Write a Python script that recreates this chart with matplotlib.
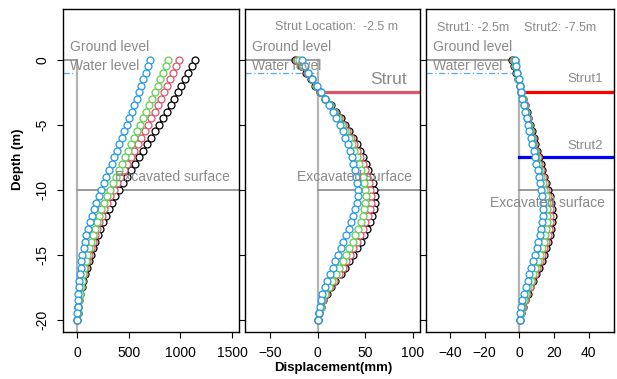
import numpy as np
import matplotlib
matplotlib.use("Agg")
import matplotlib.pyplot as plt
import matplotlib.transforms as mtransforms

plt.rcParams['font.family'] = ['Liberation Sans', 'DejaVu Sans']

# depth grid (m), every 0.5 m
depth = np.arange(0, -20.5, -0.5)

# panel 1: cantilever, no strut
black1 = [1142, 1110, 1077, 1044, 1010, 975, 940, 904, 866, 830, 792, 755, 717, 678, 640, 600, 562, 522, 483, 443,
          405, 370, 336, 304, 275, 248, 222, 198, 175, 152, 130, 110, 91, 73, 57, 42, 30, 19, 10, 4, 0]
red1 = [986, 958, 930, 901, 872, 842, 812, 781, 749, 717, 685, 652, 619, 586, 553, 519, 486, 452, 418, 384,
        351, 320, 290, 262, 237, 213, 191, 170, 150, 131, 113, 95, 79, 64, 50, 37, 26, 17, 9, 3, 0]
green1 = [883, 858, 832, 806, 780, 753, 726, 698, 670, 641, 612, 583, 553, 523, 493, 463, 433, 403, 373, 343,
          313, 284, 257, 232, 209, 188, 168, 149, 131, 114, 98, 83, 69, 56, 44, 33, 23, 15, 8, 3, 0]
blue1 = [705, 684, 663, 641, 619, 597, 574, 551, 528, 504, 480, 456, 432, 407, 382, 357, 332, 307, 282, 257,
         232, 207, 183, 161, 140, 121, 104, 88, 74, 61, 50, 40, 31, 23, 17, 12, 8, 5, 3, 1, 0]

# panel 2: one strut at -2.5 m
black2 = [-24, -18, -12.5, -7.5, -3, 2, 8, 13.5, 19, 24, 28.5, 33, 37, 41, 44.5, 47.5, 50.5, 53, 55.5, 57.5,
          59.5, 60.5, 60, 59, 57, 54.5, 51.5, 48.5, 45, 41, 37, 33, 28.5, 24, 18, 13.5, 9.5, 6, 3.5, 1.5, 0.5]
red2 = [-22, -16.5, -11.5, -6.5, -2, 2.5, 8, 13, 18, 22.5, 27, 31, 35, 38.5, 41.5, 44.5, 47, 49.5, 51.5, 53.5,
        55, 56, 55.5, 54.5, 52.5, 50, 47.5, 44.5, 41, 37.5, 34, 30, 26, 22, 17, 12.5, 8.5, 5.5, 3.5, 1.5, 0.5]
green2 = [-20, -15, -10.5, -6, -1.5, 3, 7.5, 12.5, 17, 21, 25, 29, 32.5, 35.5, 38.5, 41, 43.5, 45.5, 47.5, 49,
          50, 50.5, 50, 49, 47, 45, 42.5, 39.5, 36.5, 33, 29.5, 26, 22.5, 19, 15, 11.5, 8, 5, 3, 1, 0]
blue2 = [-17, -13.5, -10, -5.5, -1, 3.5, 7.5, 12, 16, 19.5, 23, 26, 29, 31.5, 34, 36, 37.5, 39, 40.5, 41.5,
         42, 42, 41, 39.5, 37.5, 35, 32.5, 30, 27, 24.5, 21.5, 18.5, 15.5, 12.5, 10, 7.5, 5, 3.5, 2, 1, 0]

# panel 3: struts at -2.5 m and -7.5 m
black3 = [-4, -3, -1.8, -0.8, 0.2, 1.2, 2.2, 3.2, 4.2, 5.2, 6.2, 7.2, 8.2, 9.2, 10.2, 11.2, 12.2, 13.3, 14.4, 15.5,
          16.6, 17.6, 18.4, 19, 19.2, 19, 18.5, 17.8, 16.8, 15.6, 14.3, 12.8, 11.2, 9.6, 8, 6.4, 4.8, 3.4, 2.2, 1.2, 0.5]
red3 = [-3.6, -2.7, -1.6, -0.7, 0.2, 1.1, 2.1, 3, 3.9, 4.9, 5.8, 6.8, 7.7, 8.7, 9.6, 10.6, 11.5, 12.5, 13.5, 14.5,
        15.5, 16.4, 17.1, 17.6, 17.8, 17.6, 17.1, 16.4, 15.5, 14.4, 13.2, 11.8, 10.3, 8.8, 7.3, 5.9, 4.4, 3.1, 2, 1.1, 0.5]
green3 = [-3, -2.3, -1.4, -0.6, 0.2, 1, 1.9, 2.8, 3.7, 4.5, 5.4, 6.3, 7.2, 8, 8.9, 9.8, 10.7, 11.6, 12.5, 13.4,
          14.3, 15.1, 15.7, 16.1, 16.2, 16, 15.5, 14.8, 14, 13, 11.9, 10.6, 9.3, 7.9, 6.5, 5.2, 3.9, 2.7, 1.7, 0.9, 0.4]
blue3 = [-2.5, -1.8, -1.2, -0.4, 0.3, 1, 1.8, 2.6, 3.4, 4.2, 5, 5.8, 6.6, 7.4, 8.2, 9, 9.8, 10.6, 11.4, 12.1,
         12.7, 13.2, 13.5, 13.6, 13.4, 13, 12.4, 11.7, 10.9, 10, 9, 8, 6.9, 5.8, 4.7, 3.6, 2.6, 1.7, 1, 0.5, 0.3]

series_colors = ['black', '#DF536B', '#61D04F', '#2297E6']
txt_gray = '#8a8a8a'
ylim = (-20.92, 3.92)

fig = plt.figure(figsize=(6.17, 3.79), dpi=100)
ax1 = fig.add_axes([63/617, 47.3/379, 176/617, 322.7/379])
ax2 = fig.add_axes([245/617, 47.3/379, 175/617, 322.7/379])
ax3 = fig.add_axes([425.7/617, 47.3/379, 188/617, 322.7/379])

panels = [
    (ax1, [black1, red1, green1, blue1], (-139, 1568), [0, 500, 1000, 1500]),
    (ax2, [black2, red2, green2, blue2], (-76.3, 107.3), [-50, 0, 50, 100]),
    (ax3, [black3, red3, green3, blue3], (-54, 54.4), [-40, -20, 0, 20, 40]),
]

for ax, data, xl, xt in panels:
    ax.set_xlim(xl)
    ax.set_ylim(ylim)
    tr = mtransforms.blended_transform_factory(ax.transAxes, ax.transData)
    # wall, ground, water level, excavation
    ax.plot([0, 0], [0, ylim[0]], color='#b4b4b4', lw=1.6, zorder=1)
    ax.plot([0, 0], [0, 0], transform=tr)
    ax.plot([0, (0 - xl[0]) / (xl[1] - xl[0])], [0, 0], color='#8c8c8c', lw=1.2, transform=tr, zorder=1)
    ax.plot([0, (0 - xl[0]) / (xl[1] - xl[0])], [-1, -1], color='#56a8e6', lw=0.9,
            ls=(0, (5, 2, 1, 2)), transform=tr, zorder=1)
    ax.plot([(0 - xl[0]) / (xl[1] - xl[0]), 1], [-10, -10], color='#999999', lw=1.4, transform=tr, zorder=1)
    for vals, c in zip(data, series_colors):
        ax.plot(vals, depth, color=c, lw=0.8, marker='o', ms=5, mfc='white', mec=c, mew=0.9, zorder=3)
    ax.text(0.04, 1.0, 'Ground level', transform=tr, ha='left', va='center', fontsize=10, color=txt_gray, zorder=4)
    ax.text(0.04, -0.45, 'Water level', transform=tr, ha='left', va='center', fontsize=10, color=txt_gray, zorder=4)
    ax.set_xticks(xt)
    ax.set_yticks([0, -5, -10, -15, -20])
    ax.tick_params(direction='out', length=4, width=0.8, labelsize=10, pad=6)
    for s in ax.spines.values():
        s.set_linewidth(1)

tr1 = mtransforms.blended_transform_factory(ax1.transAxes, ax1.transData)
ax1.text(0.949, -9, 'Excavated surface', transform=tr1, ha='right', va='center', fontsize=10, color=txt_gray, zorder=4)
ax1.set_yticklabels(['0', '-5', '-10', '-15', '-20'], rotation=90, va='center')
ax2.set_yticklabels([])
ax3.set_yticklabels([])

tr2 = mtransforms.blended_transform_factory(ax2.transAxes, ax2.transData)
ax2.plot([(0 + 76.3) / (107.3 + 76.3), 1], [-2.5, -2.5], color='#DF536B', lw=2.3, transform=tr2, zorder=2)
ax2.text(0.954, -9, 'Excavated surface', transform=tr2, ha='right', va='center', fontsize=10, color=txt_gray, zorder=4)
ax2.text(0.524, 2.5, 'Strut Location:  -2.5 m', transform=tr2, ha='center', va='center', fontsize=9, color=txt_gray)
ax2.text(0.924, -1.5, 'Strut', transform=tr2, ha='right', va='center', fontsize=12.5, color=txt_gray)

tr3 = mtransforms.blended_transform_factory(ax3.transAxes, ax3.transData)
x0 = (0 + 54) / (54.4 + 54)
ax3.plot([x0, 1], [-2.5, -2.5], color='#FF0000', lw=2.3, transform=tr3, zorder=2)
ax3.plot([x0, 1], [-7.5, -7.5], color='#0000FF', lw=2.3, transform=tr3, zorder=2)
ax3.text(0.954, -11, 'Excavated surface', transform=tr3, ha='right', va='center', fontsize=10, color=txt_gray, zorder=4)
ax3.text(0.062, 2.45, 'Strut1: -2.5m', transform=tr3, ha='left', va='center', fontsize=9, color=txt_gray)
ax3.text(0.525, 2.45, 'Strut2: -7.5m', transform=tr3, ha='left', va='center', fontsize=9, color=txt_gray)
ax3.text(0.941, -1.5, 'Strut1', transform=tr3, ha='right', va='center', fontsize=9.5, color=txt_gray)
ax3.text(0.941, -6.6, 'Strut2', transform=tr3, ha='right', va='center', fontsize=9.5, color=txt_gray)

fig.text(0.029, 0.58, 'Depth (m)', rotation=90, ha='center', va='center', fontsize=9.5, fontweight='bold')
fig.text(0.5405, 0.029, 'Displacement(mm)', ha='center', va='center', fontsize=9.5, fontweight='bold')

fig.savefig('out.png', dpi=100)
